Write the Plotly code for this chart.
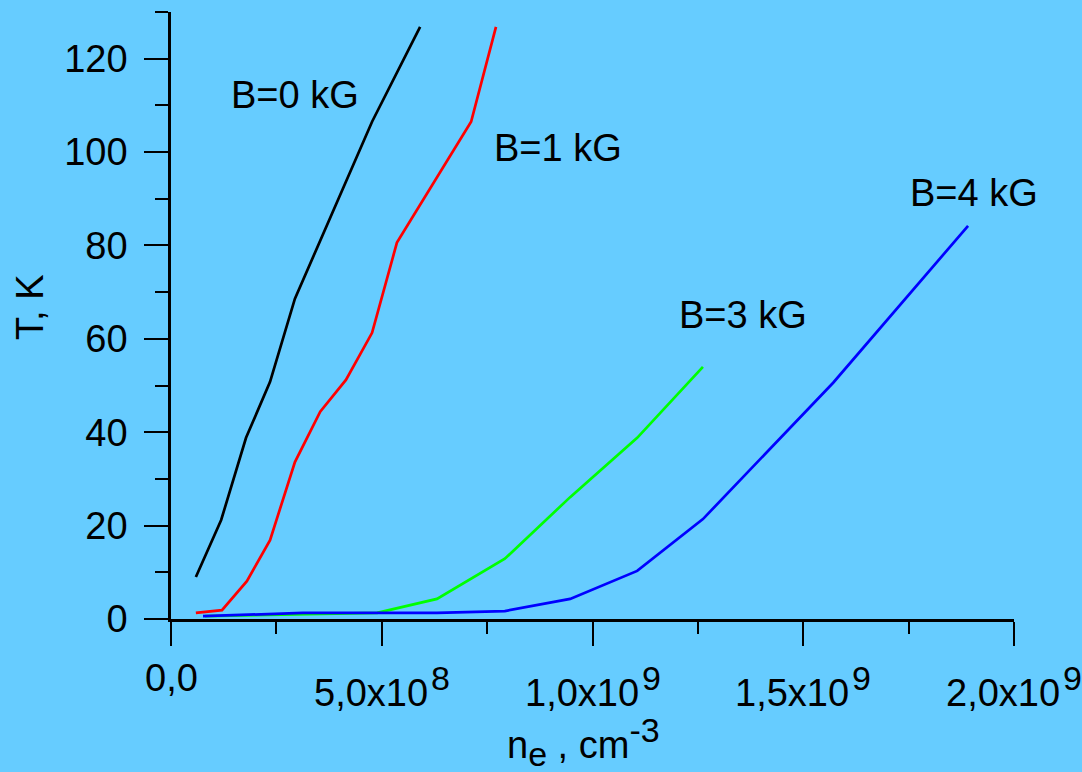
import plotly.graph_objects as go

# ---- data (n_e in cm^-3, T in K) ----
b0_ne = [0.059e9, 0.119e9, 0.178e9, 0.235e9, 0.294e9, 0.477e9, 0.591e9]
b0_T = [9.0, 21.2, 38.8, 50.8, 68.6, 106.5, 126.8]

b1_ne = [0.059e9, 0.121e9, 0.180e9, 0.235e9, 0.294e9, 0.354e9, 0.415e9,
         0.477e9, 0.536e9, 0.712e9, 0.771e9]
b1_T = [1.3, 1.9, 8.1, 16.9, 33.6, 44.4, 51.2, 61.3, 80.6, 106.5, 126.8]

b3_ne = [0.081e9, 0.489e9, 0.631e9, 0.792e9, 0.947e9, 1.106e9, 1.262e9]
b3_T = [0.6, 1.3, 4.3, 12.9, 26.1, 38.8, 54.0]

b4_ne = [0.076e9, 0.313e9, 0.631e9, 0.792e9, 0.947e9, 1.106e9, 1.262e9,
         1.571e9, 1.891e9]
b4_T = [0.6, 1.3, 1.3, 1.7, 4.3, 10.3, 21.4, 50.6, 84.2]

series_names = ["B=0 kG", "B=1 kG", "B=3 kG", "B=4 kG"]
series_colors = ["#000000", "#FF0000", "#00FF00", "#0000FF"]
label_x = [0.294e9, 0.919e9, 1.356e9, 1.905e9]
label_y = [112.3, 100.9, 65.1, 91.3]

x_tick_vals = [0, 5e8, 1e9, 1.5e9, 2e9]
x_tick_mant = ["0,0", "5,0", "1,0", "1,5", "2,0"]
x_tick_exp = [None, "8", "9", "9", "9"]

BG = "#66CCFF"
FONT = "Liberation Sans, Arial, sans-serif"
FS = 38

fig = go.Figure()
for ne, T, c, n in zip([b0_ne, b1_ne, b3_ne, b4_ne], [b0_T, b1_T, b3_T, b4_T],
                       series_colors, series_names):
    fig.add_trace(go.Scatter(x=ne, y=T, mode="lines", name=n,
                             line=dict(color=c, width=2.7), showlegend=False))

fig.update_layout(
    width=1082, height=772,
    margin=dict(l=171, r=68, t=12, b=153),
    paper_bgcolor=BG, plot_bgcolor=BG,
    font=dict(family=FONT, size=FS, color="black"),
    showlegend=False,
)

fig.update_xaxes(
    range=[0, 2e9], showline=True, linecolor="black", linewidth=2.5,
    ticks="outside", ticklen=24, tickwidth=2, tickcolor="black",
    tickmode="linear", tick0=0, dtick=5e8,
    showticklabels=False, showgrid=False, zeroline=False,
    minor=dict(ticks="outside", ticklen=12, tickwidth=2, tickcolor="black",
               dtick=2.5e8, tick0=0, showgrid=False),
)
fig.update_yaxes(
    range=[0, 130], showline=True, linecolor="black", linewidth=2.5,
    ticks="outside", ticklen=24, tickwidth=2, tickcolor="black",
    tickmode="linear", tick0=0, dtick=20,
    tickfont=dict(family=FONT, size=FS, color="black"),
    ticklabelstandoff=9,
    showgrid=False, zeroline=False,
    minor=dict(ticks="outside", ticklen=13, tickwidth=2, tickcolor="black",
               dtick=10, tick0=0, showgrid=False),
)

# curve labels
for n, lx, ly in zip(series_names, label_x, label_y):
    fig.add_annotation(x=lx, y=ly, xref="x", yref="y", text=n, showarrow=False,
                       font=dict(family=FONT, size=FS, color="black"),
                       xanchor="center", yanchor="middle")

# x tick labels
for v, m, e in zip(x_tick_vals, x_tick_mant, x_tick_exp):
    if e is None:
        txt = m
        ysh = -59
    else:
        txt = m + "x10<sup><span style='font-size:34px'>\u200a" + e + "</span></sup>"
        ysh = -67
    fig.add_annotation(x=v, y=0, xref="x", yref="paper", text=txt, showarrow=False,
                       font=dict(family=FONT, size=FS, color="black"),
                       xanchor="center", yanchor="middle", yshift=ysh)

# axis titles
fig.add_annotation(x=0, y=0.5124, xref="paper", yref="paper", text="T, K",
                   textangle=-90, showarrow=False, xshift=-141,
                   font=dict(family=FONT, size=FS, color="black"),
                   xanchor="center", yanchor="middle")
fig.add_annotation(x=0.4899, y=0, xref="paper", yref="paper",
                   text="n<sub><span style='font-size:34px'>e</span></sub> , cm<sup><span style='font-size:34px'>-3</span></sup>",
                   showarrow=False, yshift=-123,
                   font=dict(family=FONT, size=FS, color="black"),
                   xanchor="center", yanchor="middle")

fig.write_html("out.html")
